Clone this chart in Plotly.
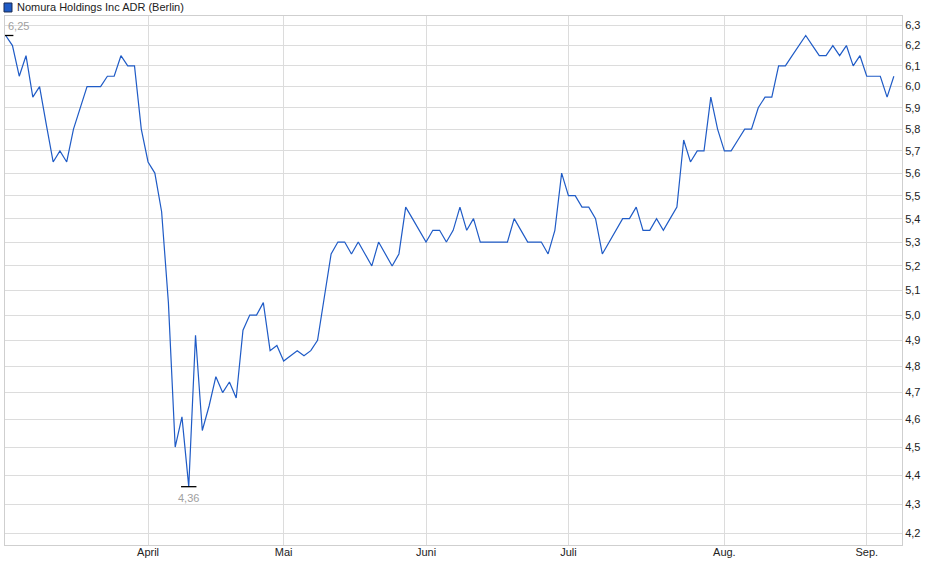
import numpy as np
import pandas as pd
import plotly.graph_objects as go

# trading days at Börse Berlin (weekdays minus exchange holidays)
holidays = ["2025-04-18", "2025-04-21", "2025-05-01"]
days = pd.bdate_range("2025-03-03", "2025-09-05")
days = days[~days.isin(pd.to_datetime(holidays))]
dates = [d.strftime("%Y-%m-%d") for d in days]

# closing prices in EUR
prices = [
    6.25, 6.20, 6.05, 6.15, 5.95, 6.00, 5.82, 5.65, 5.70, 5.65,
    5.80, 5.90, 6.00, 6.00, 6.00, 6.05, 6.05, 6.15, 6.10, 6.10,
    5.80, 5.65, 5.60, 5.43, 5.05, 4.50, 4.61, 4.36, 4.92, 4.56,
    4.65, 4.76, 4.70, 4.74, 4.68, 4.94, 5.00, 5.00, 5.05, 4.86,
    4.88, 4.82, 4.84, 4.86, 4.84, 4.86, 4.90, 5.07, 5.25, 5.30,
    5.30, 5.25, 5.30, 5.25, 5.20, 5.30, 5.25, 5.20, 5.25, 5.45,
    5.40, 5.35, 5.30, 5.35, 5.35, 5.30, 5.35, 5.45, 5.35, 5.40,
    5.30, 5.30, 5.30, 5.30, 5.30, 5.40, 5.35, 5.30, 5.30, 5.30,
    5.25, 5.35, 5.60, 5.50, 5.50, 5.45, 5.45, 5.40, 5.25, 5.30,
    5.35, 5.40, 5.40, 5.45, 5.35, 5.35, 5.40, 5.35, 5.40, 5.45,
    5.75, 5.65, 5.70, 5.70, 5.95, 5.80, 5.70, 5.70, 5.75, 5.80,
    5.80, 5.90, 5.95, 5.95, 6.10, 6.10, 6.15, 6.20, 6.25, 6.20,
    6.15, 6.15, 6.20, 6.15, 6.20, 6.10, 6.15, 6.05, 6.05, 6.05,
    5.95, 6.05,
]

month_names = ["April", "Mai", "Juni", "Juli", "Aug.", "Sep."]
y_ticks = [4.2, 4.3, 4.4, 4.5, 4.6, 4.7, 4.8, 4.9, 5.0, 5.1, 5.2,
           5.3, 5.4, 5.5, 5.6, 5.7, 5.8, 5.9, 6.0, 6.1, 6.2, 6.3]

# first trading day of each month from April on
month_starts = []
seen = set()
for d in dates:
    m = d[:7]
    if m not in seen:
        seen.add(m)
        month_starts.append(d)
month_starts = month_starts[1:]

i_max = int(np.argmax(prices))
i_min = int(np.argmin(prices))

fig = go.Figure()

fig.add_trace(go.Scatter(
    x=dates, y=prices,
    mode="lines",
    line=dict(color="#1f5bc6", width=1.2),
    hovertemplate="%{x}<br>%{y:.2f}<extra></extra>",
))

# high / low markers
fig.add_trace(go.Scatter(
    x=[dates[i_max], dates[i_min]],
    y=[prices[i_max], prices[i_min]],
    mode="markers",
    marker=dict(symbol="line-ew", size=11, line=dict(color="black", width=1.3)),
    hoverinfo="skip",
))

fig.add_annotation(
    x=dates[i_max], y=np.log10(prices[i_max]),
    text=f"{prices[i_max]:.2f}".replace(".", ","),
    showarrow=False, xanchor="left", yanchor="bottom", yshift=1, xshift=0,
    font=dict(family="Liberation Sans, Arial", size=11, color="#a0a0a0"),
)
fig.add_annotation(
    x=dates[i_min], y=np.log10(prices[i_min]),
    text=f"{prices[i_min]:.2f}".replace(".", ","),
    showarrow=False, xanchor="center", yanchor="top", yshift=-3,
    font=dict(family="Liberation Sans, Arial", size=11, color="#a0a0a0"),
)

# title with legend square
fig.add_shape(
    type="rect", xref="paper", yref="paper",
    x0=-0.0011, x1=0.0078, y0=1.0076, y1=1.0246,
    fillcolor="#1f5bc6", line=dict(color="#1a2a50", width=1),
)
fig.add_annotation(
    xref="paper", yref="paper", x=0.0111, y=1.017,
    text="Nomura Holdings Inc ADR (Berlin)",
    showarrow=False, xanchor="left", yanchor="middle",
    font=dict(family="Liberation Sans, Arial", size=11, color="#222222"),
)

fig.update_layout(
    width=940, height=579,
    margin=dict(l=5, r=38, t=16, b=34),
    paper_bgcolor="white", plot_bgcolor="white",
    showlegend=False,
    separators=",.",
)

fig.update_xaxes(
    type="category",
    range=[-0.1, 132.2],
    tickvals=month_starts, ticktext=month_names,
    showgrid=True, gridcolor="#dcdcdc", gridwidth=1,
    showline=True, linecolor="#cfcfcf", mirror=True,
    ticks="", zeroline=False, ticklabelstandoff=-3,
    tickfont=dict(family="Liberation Sans, Arial", size=11, color="#222222"),
)

fig.update_yaxes(
    type="log",
    range=[np.log10(4.1617), np.log10(6.348)],
    side="right",
    tickvals=y_ticks, tickformat=".1f",
    showgrid=True, gridcolor="#dcdcdc", gridwidth=1,
    showline=True, linecolor="#cfcfcf", mirror=True,
    ticks="", zeroline=False,
    tickfont=dict(family="Liberation Sans, Arial", size=11, color="#222222"),
)

# drop the default page margin so the figure sits at the window corner
fig.write_html("out.html", config={"displayModeBar": False},
               post_script="document.body.style.margin='0';")
